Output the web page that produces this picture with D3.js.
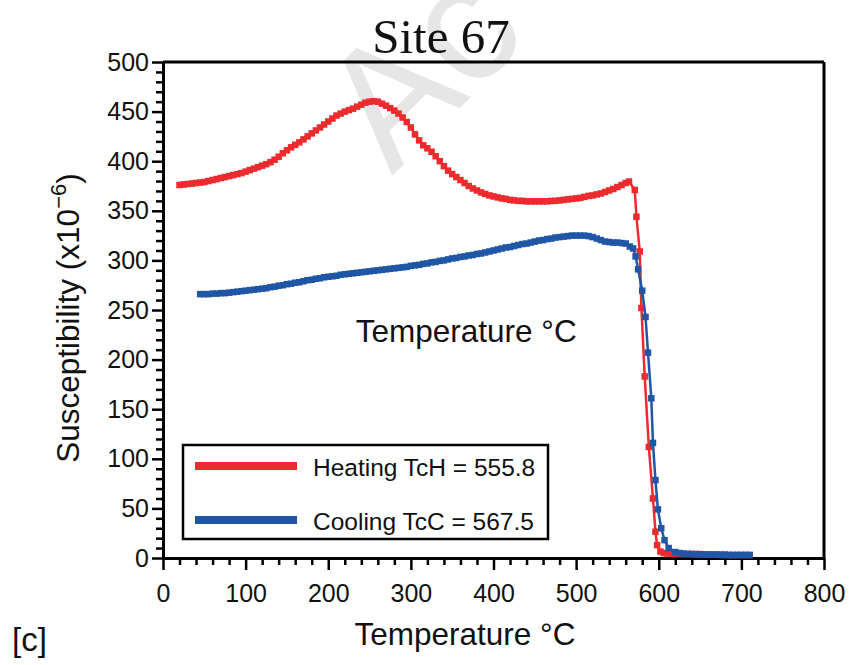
<!DOCTYPE html>
<html>
<head>
<meta charset="utf-8">
<script src="https://cdn.jsdelivr.net/npm/d3@7"></script>
<style>
  body { margin: 0; background: #fff; }
  svg { display: block; }
  text { font-family: "Liberation Sans", Arial, Helvetica, sans-serif; fill: #111; }
</style>
</head>
<body>
<svg id="chart" width="849" height="665"></svg>
<script>
// Heating run: temperature (°C) and susceptibility (x10^-6)
const heatTemp = [20,25,30,35,40,45,50,55,60,65,70,75,80,85,90,95,100,105,110,115,120,125,130,135,140,145,150,155,160,165,170,175,180,185,190,195,200,205,210,215,220,225,230,235,240,245,250,255,260,265,270,275,280,285,290,295,300,305,310,315,320,325,330,335,340,345,350,355,360,365,370,375,380,385,390,395,400,405,410,415,420,425,430,435,440,445,450,455,460,465,470,475,480,485,490,495,500,505,510,515,520,525,530,535,540,545,550,555,560,564,
  571,573,577,579,583,588,593,596,598,602,606,610,615,620,625,630,635,640,645,650,655,660,665,670,675,680,685,690,695,700,705,710];
const heatSusc = [376,376.5,377,377.5,378,378.5,379,380,381,382,383,384,385,386,387,388,389.5,391,392.5,394,395.5,397,399,401.5,404.5,408,411,414,416.5,419,422,425,428,431,434,437,440,443,446,448,450,451.5,453,455,457,459,460,460.5,460,458,456,453.5,451,448,444,439.5,434,427,421,416,413,409.5,405,400,395,390.5,387,384,381,378,375,372.5,370.5,368.5,367,365.5,364.5,363.5,362.5,362,361,360.5,360,360,359.5,359.5,359.5,359.5,359.5,359.5,360,360,360.5,361,361.5,362,362.5,363,364,365,365.5,366.5,367.5,369,370.5,372,374,376,378,379.5,
  371,344,309,252,183,112,60,26.5,13,6.5,5,4.5,4,4,4,4,4,4,4,4,3.5,3.5,3.5,3.5,3.5,3.5,3,3,3,3,3,3];

// Cooling run
const coolTemp = [45,50,55,60,65,70,75,80,85,90,95,100,105,110,115,120,125,130,135,140,145,150,155,160,165,170,175,180,185,190,195,200,205,210,215,220,225,230,235,240,245,250,255,260,265,270,275,280,285,290,295,300,305,310,315,320,325,330,335,340,345,350,355,360,365,370,375,380,385,390,395,400,405,410,415,420,425,430,435,440,445,450,455,460,465,470,475,480,485,490,495,500,505,510,515,520,525,530,535,540,545,550,555,560,565,
  569,572,575,580,584,587,591,593,596,599,603,607,612,620,625,630,635,640,645,650,655,660,665,670,675,680,685,690,695,700,705,710];
const coolSusc = [266,266,266,266.5,266.5,267,267,267.5,268,268.5,269,269.5,270,270.5,271,271.5,272,273,273.5,274.5,275,276,276.5,277.5,278,279,280,280.5,281.5,282,283,283.5,284,284.5,285.5,286,286.5,287,287.5,288,288.5,289,289.5,290,290.5,291,291.5,292,292.5,293,293.5,294.5,295,295.5,296.5,297,298,298.5,299.5,300,301,302,302.5,303.5,304,305,305.5,306.5,307,308,309,310,311,312,313,313.5,314.5,315.5,316.5,317,318,319,320,320.5,321.5,322,323,323.5,324,324.5,325,325,325,325,324.5,323.5,322,320.5,319,318.5,318,318,317.5,317,314,
  312,304,291,269.5,243,207,161,116,78.5,49,30,18,10,6,5,4.5,4,4,3.5,3.5,3.5,3.5,3.5,3.5,3,3,3,3,3,3,3,3];

// Axis ticks
const xMajor = [0,100,200,300,400,500,600,700,800];
const yMajor = [0,50,100,150,200,250,300,350,400,450,500];

const seriesNames = ["Heating TcH = 555.8", "Cooling TcC = 567.5"];
const seriesColors = ["#ED2A2D", "#1F56A5"];

const svg = d3.select("#chart");
const W = 849, H = 665;
const m = { left: 163, right: 25, top: 62, bottom: 107 };

const x = d3.scaleLinear().domain([0, 800]).range([m.left, W - m.right]);
const y = d3.scaleLinear().domain([0, 500]).range([H - m.bottom, m.top]);

// Faint diagonal watermark behind the plot
svg.append("text")
  .attr("transform", "translate(392,176) rotate(-45)")
  .attr("font-size", 168)
  .style("fill", "#e6e6e6")
  .text("Ac");

// Title
svg.append("text")
  .attr("x", 441).attr("y", 53)
  .attr("text-anchor", "middle")
  .style("font-family", "'Liberation Serif', 'Times New Roman', serif")
  .attr("font-size", 49)
  .text("Site 67");

// Frame: top and right edges
const frame = svg.append("g").attr("stroke", "#000").attr("stroke-width", 3).attr("fill", "none");
frame.append("line").attr("x1", x(0)).attr("x2", x(800)).attr("y1", y(500)).attr("y2", y(500));
frame.append("line").attr("x1", x(800)).attr("x2", x(800)).attr("y1", y(500)).attr("y2", y(0));

// Minor ticks
const xMinor = d3.range(0, 801, 20).filter(v => v % 100 !== 0);
const yMinor = d3.range(0, 501, 10).filter(v => v % 50 !== 0);

const gxMinor = svg.append("g").attr("transform", `translate(0,${y(0)})`)
  .call(d3.axisBottom(x).tickValues(xMinor).tickSize(7).tickFormat("").tickSizeOuter(0));
const gyMinor = svg.append("g").attr("transform", `translate(${x(0)},0)`)
  .call(d3.axisLeft(y).tickValues(yMinor).tickSize(7).tickFormat("").tickSizeOuter(0));

const gx = svg.append("g").attr("transform", `translate(0,${y(0)})`)
  .call(d3.axisBottom(x).tickValues(xMajor).tickSize(12).tickPadding(14).tickSizeOuter(0));
const gy = svg.append("g").attr("transform", `translate(${x(0)},0)`)
  .call(d3.axisLeft(y).tickValues(yMajor).tickSize(11).tickPadding(3).tickSizeOuter(0));

[gxMinor, gyMinor, gx, gy].forEach(g => {
  g.select(".domain").attr("stroke", "#000").attr("stroke-width", 3);
  g.selectAll(".tick line").attr("stroke", "#000").attr("stroke-width", 2.5);
});
[gx, gy].forEach(g => {
  g.selectAll(".tick text")
    .style("font-family", "'Liberation Sans', Arial, sans-serif")
    .attr("font-size", 25).attr("fill", "#111");
});

// Series
const series = [
  { temp: heatTemp, susc: heatSusc, color: seriesColors[0] },
  { temp: coolTemp, susc: coolSusc, color: seriesColors[1] }
];
const line = d3.line().x(d => x(d[0])).y(d => y(d[1]));
const mk = 6.5;
series.forEach(s => {
  const pts = s.temp.map((t, i) => [t, s.susc[i]]);
  svg.append("path").datum(pts)
    .attr("d", line)
    .attr("fill", "none")
    .attr("stroke", s.color)
    .attr("stroke-width", 2.5)
    .attr("stroke-linejoin", "round");
  svg.append("g").selectAll("rect").data(pts).join("rect")
    .attr("x", d => x(d[0]) - mk / 2)
    .attr("y", d => y(d[1]) - mk / 2)
    .attr("width", mk).attr("height", mk)
    .attr("fill", s.color);
});

// In-plot label
svg.append("text")
  .attr("x", x(367)).attr("y", y(218))
  .attr("text-anchor", "middle")
  .attr("font-size", 31.5)
  .text("Temperature °C");

// Legend
const lg = svg.append("g");
lg.append("rect").attr("x", 183).attr("y", 445).attr("width", 365).attr("height", 94)
  .attr("fill", "#fff").attr("stroke", "#000").attr("stroke-width", 2.5);
[466, 520].forEach((ly, i) => {
  lg.append("line").attr("x1", 195).attr("x2", 297).attr("y1", ly).attr("y2", ly)
    .attr("stroke", seriesColors[i]).attr("stroke-width", 8);
  lg.append("text").attr("x", 313).attr("y", ly + 10)
    .attr("font-size", 24.5).text(seriesNames[i]);
});

// Axis titles
svg.append("text")
  .attr("x", 465).attr("y", 645)
  .attr("text-anchor", "middle")
  .attr("font-size", 31.5)
  .text("Temperature °C");

const yt = svg.append("text")
  .attr("transform", "translate(79,318) rotate(-90)")
  .attr("text-anchor", "middle")
  .attr("font-size", 31.5);
yt.append("tspan").text("Susceptibility (x10");
yt.append("tspan").attr("dy", -13).attr("font-size", 22).text("\u22126");
yt.append("tspan").attr("dy", 13).text(")");

// Panel tag
svg.append("text").attr("x", 12).attr("y", 651).attr("font-size", 33).text("[c]");
</script>
</body>
</html>
